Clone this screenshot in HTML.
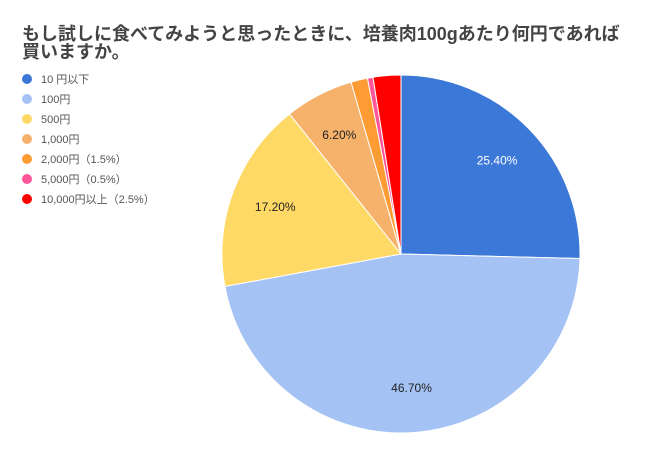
<!DOCTYPE html>
<html><head><meta charset="utf-8"><style>
body{margin:0;background:#fff;width:650px;height:455px;overflow:hidden;font-family:"Liberation Sans","Noto Sans CJK JP",sans-serif}
</style></head><body>
<svg width="650" height="455" xmlns="http://www.w3.org/2000/svg">
<text x="22" y="40" font-size="18" font-weight="bold" fill="#444" font-family="Liberation Sans, Noto Sans CJK JP, sans-serif">もし試しに食べてみようと思ったときに、培養肉100gあたり何円であれば</text>
<text x="22" y="58" font-size="18" font-weight="bold" fill="#444" font-family="Liberation Sans, Noto Sans CJK JP, sans-serif">買いますか。</text>
<g id="legend"></g><g id="slices"></g><g id="labels"></g>
</svg>
<script>
const categories=["10 円以下","100円","500円","1,000円","2,000円（1.5%）","5,000円（0.5%）","10,000円以上（2.5%）"];
const values=[25.4,46.7,17.2,6.2,1.5,0.5,2.5];
const printed=["25.40%","46.70%","17.20%","6.20%","","",""];
const colors=["#3c78d8","#a4c2f4","#ffd966","#f6b26b","#ff9b33","#ff5599","#ff0000"];
const labelColors=["#fff","#222","#222","#222","#222","#222","#222"];
const NS="http://www.w3.org/2000/svg";
const cx=401,cy=254,r=179;
const total=values.reduce((a,b)=>a+b,0);
const pt=(f,rr)=>[cx+rr*Math.sin(f*2*Math.PI),cy-rr*Math.cos(f*2*Math.PI)];
let acc=0;
const sg=document.getElementById('slices'),lg=document.getElementById('labels'),leg=document.getElementById('legend');
values.forEach((v,i)=>{
  const f0=acc/total,f1=(acc+v)/total;acc+=v;
  const [x0,y0]=pt(f0,r),[x1,y1]=pt(f1,r);
  const p=document.createElementNS(NS,'path');
  p.setAttribute('d',`M${cx},${cy}L${x0},${y0}A${r},${r} 0 ${f1-f0>0.5?1:0} 1 ${x1},${y1}Z`);
  p.setAttribute('fill',colors[i]);p.setAttribute('stroke','#fff');p.setAttribute('stroke-width','1');
  
  
  sg.appendChild(p);
  if(printed[i]){
    const [lx,ly]=pt((f0+f1)/2,r*0.75);
    const t=document.createElementNS(NS,'text');
    t.setAttribute('x',lx);t.setAttribute('y',ly+4);t.setAttribute('text-anchor','middle');
    t.setAttribute('font-size','12');t.setAttribute('fill',labelColors[i]);
    t.textContent=printed[i];
    
    
    lg.appendChild(t);
  }
  const g=document.createElementNS(NS,'g');
  
  
  const c=document.createElementNS(NS,'circle');
  c.setAttribute('cx',27);c.setAttribute('cy',79+i*20);c.setAttribute('r',5);c.setAttribute('fill',colors[i]);
  const t=document.createElementNS(NS,'text');
  t.setAttribute('x',41);t.setAttribute('y',83+i*20);t.setAttribute('font-size','11');t.setAttribute('fill','#555');
  t.textContent=categories[i];
  g.appendChild(c);g.appendChild(t);leg.appendChild(g);
});
</script>
</body></html>
